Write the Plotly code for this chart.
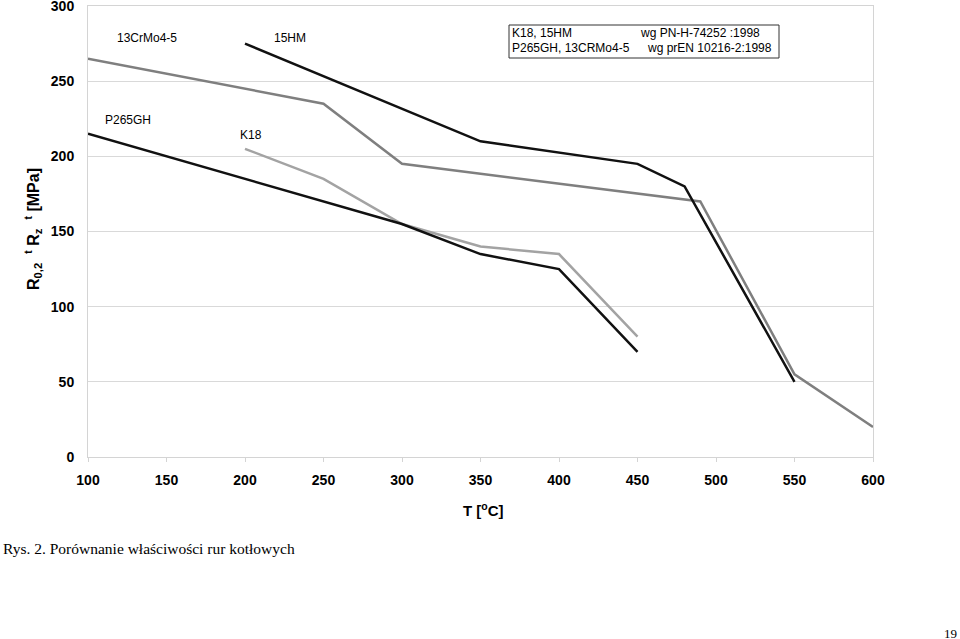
import plotly.graph_objects as go

# Data
p265_T = [100, 200, 250, 300, 350, 400, 450]
p265_R = [215, 185, 170, 155, 135, 125, 70]

k18_T = [200, 250, 300, 350, 400, 450]
k18_R = [205, 185, 155, 140, 135, 80]

crmo_T = [100, 250, 300, 490, 550, 600]
crmo_R = [265, 235, 195, 170, 55, 20]

hm15_T = [200, 350, 450, 480, 550]
hm15_R = [275, 210, 195, 180, 50]

x_ticks = [100, 150, 200, 250, 300, 350, 400, 450, 500, 550, 600]
y_ticks = [0, 50, 100, 150, 200, 250, 300]

BLACK = "#111111"
MID = "#7f7f7f"
LIGHT = "#a3a3a3"

W, H = 960, 639
L, R, T, B = 88, 873, 6, 457


def px(x):
    return (x - L) / (R - L)


def py(y):
    return (B - y) / (B - T)


fig = go.Figure()
fig.add_trace(go.Scatter(x=crmo_T, y=crmo_R, mode="lines", line=dict(color=MID, width=2.5), name="13CrMo4-5"))
fig.add_trace(go.Scatter(x=k18_T, y=k18_R, mode="lines", line=dict(color=LIGHT, width=2.5), name="K18"))
fig.add_trace(go.Scatter(x=p265_T, y=p265_R, mode="lines", line=dict(color=BLACK, width=2.5), name="P265GH"))
fig.add_trace(go.Scatter(x=hm15_T, y=hm15_R, mode="lines", line=dict(color=BLACK, width=2.5), name="15HM"))

ann_font = dict(family="Liberation Sans, Arial", size=12, color="#000")
labels = [
    (147, 38, "13CrMo4-5"),
    (290, 38, "15HM"),
    (128, 120, "P265GH"),
    (251, 135, "K18"),
]
for lx, ly, t in labels:
    fig.add_annotation(x=px(lx), y=py(ly), xref="paper", yref="paper",
                       text=t, showarrow=False, font=ann_font,
                       xanchor="center", yanchor="middle")

# legend box texts
box_texts = [
    (511, 33, "K18, 15HM"),
    (639, 33, "wg PN-H-74252 :1998"),
    (511, 48, "P265GH, 13CRMo4-5"),
    (646, 48, "wg prEN 10216-2:1998"),
]
for bx, by, t in box_texts:
    fig.add_annotation(x=px(bx), y=py(by), xref="paper", yref="paper",
                       text=t, showarrow=False, font=ann_font, borderpad=0,
                       xanchor="left", yanchor="middle")

fig.add_shape(type="rect", xref="paper", yref="paper",
              x0=px(509), x1=px(779), y0=py(58), y1=py(25),
              line=dict(color="#333333", width=1), fillcolor="rgba(0,0,0,0)")

# axis titles
fig.add_annotation(x=px(483), y=py(510), xref="paper", yref="paper",
                   text="<b>T [<sup>o</sup>C]</b>", showarrow=False,
                   font=dict(family="Liberation Sans, Arial", size=15, color="#000"),
                   xanchor="center", yanchor="middle")
fig.add_annotation(x=px(33), y=py(229), xref="paper", yref="paper",
                   text="<b>R<sub>0,2</sub>  <sup>t</sup> R<sub>z</sub>  <sup>t</sup> [MPa]</b>",
                   showarrow=False, textangle=-90,
                   font=dict(family="Liberation Sans, Arial", size=16, color="#000"),
                   xanchor="center", yanchor="middle")

# caption and page number
fig.add_annotation(x=px(1), y=py(548), xref="paper", yref="paper",
                   text="Rys. 2. Porównanie właściwości rur kotłowych", showarrow=False,
                   font=dict(family="Liberation Serif, Times New Roman", size=15.5, color="#000"),
                   xanchor="left", yanchor="middle")
fig.add_annotation(x=px(959), y=py(633), xref="paper", yref="paper",
                   text="19", showarrow=False,
                   font=dict(family="Liberation Serif, Times New Roman", size=13, color="#000"),
                   xanchor="right", yanchor="middle")

fig.update_xaxes(range=[100, 600], tickvals=x_ticks, ticktext=[str(v) for v in x_ticks],
                 showgrid=False, zeroline=False, showline=True, linecolor="#d4d4d4", linewidth=1,
                 mirror=True, ticks="outside", ticklen=4, tickcolor="#d4d4d4",
                 tickfont=dict(family="Liberation Sans, Arial", size=14, color="#000", weight="bold"),
                 ticklabelstandoff=6, ticklabeloverflow="allow", automargin=False)
fig.update_yaxes(range=[0, 300], tickvals=y_ticks, ticktext=[str(v) for v in y_ticks],
                 showgrid=True, gridcolor="#d9d9d9", gridwidth=1, zeroline=False,
                 showline=True, linecolor="#d4d4d4", linewidth=1, mirror=True,
                 ticks="", tickfont=dict(family="Liberation Sans, Arial", size=14, color="#000", weight="bold"),
                 ticklabelstandoff=10, ticklabeloverflow="allow", automargin=False)

fig.update_layout(width=W, height=H, margin=dict(l=L, r=W - R, t=T, b=H - B),
                  paper_bgcolor="white", plot_bgcolor="white", showlegend=False)

fig.write_html("out.html", config={"displayModeBar": False},
               post_script="document.body.style.margin='0';document.body.style.overflow='hidden';")
